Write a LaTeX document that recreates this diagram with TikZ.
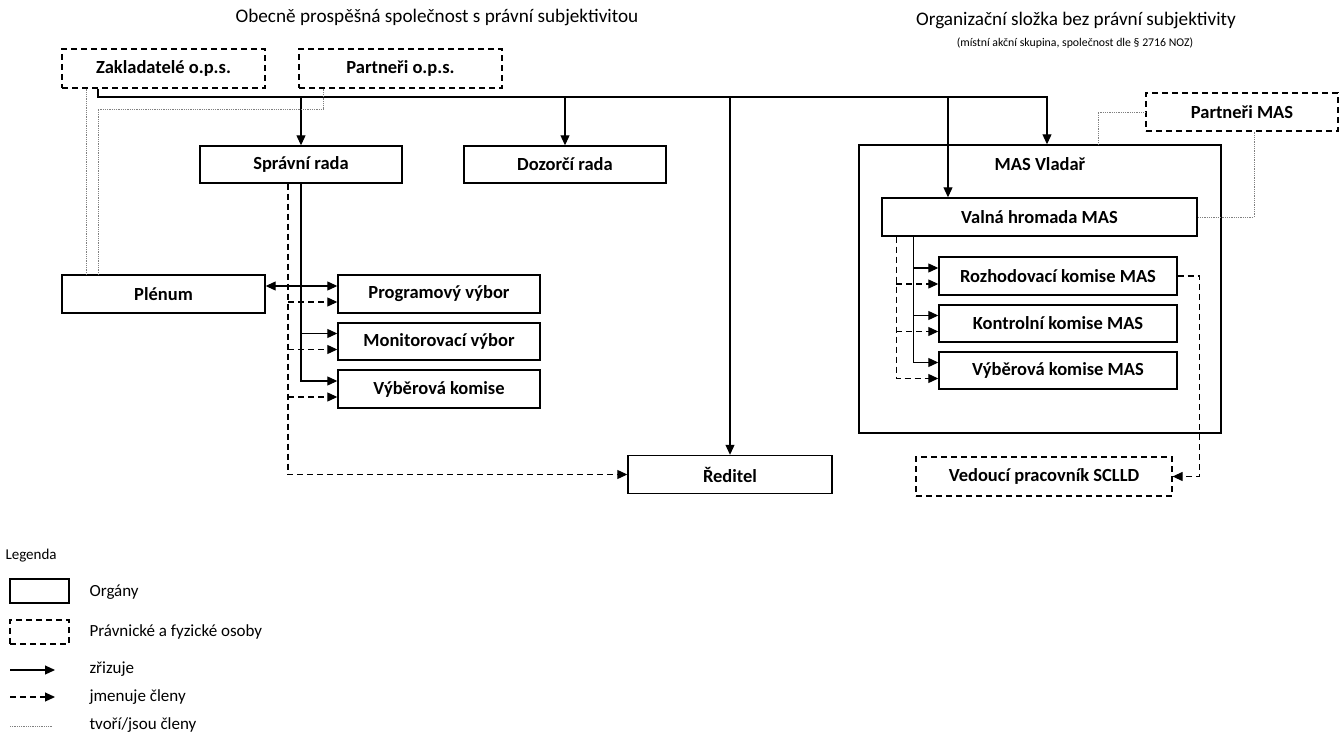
\documentclass[tikz,border=0pt]{standalone}
\usepackage{fontspec}
\setmainfont{Carlito}
\usetikzlibrary{arrows.meta,calc,positioning}

\begin{document}
\begin{tikzpicture}[x=1pt,y=-1pt,
    organ/.style={draw,line width=1.4pt,minimum height=38pt,inner sep=0pt,
      font=\fontsize{18.5}{20}\selectfont\bfseries},
    osoba/.style={organ,line width=1.2pt,dash pattern=on 6pt off 4pt},
    zrizuje/.style={line width=1.1pt,-{Triangle[length=10pt,width=9pt]}},
    jmenuje/.style={zrizuje,dash pattern=on 6pt off 4pt},
    clen/.style={line width=0.8pt,gray,densely dotted},
    nadpis/.style={font=\fontsize{19.2}{21}\selectfont},
    legtext/.style={anchor=west,font=\fontsize{17}{19}\selectfont}]
  \useasboundingbox (0,0) rectangle (1342,735);

  \node[nadpis] (titleops) at (437,17) {Obecně prospěšná společnost s právní subjektivitou};
  \node[nadpis] (titlemas) at (1076,20) {Organizační složka bez právní subjektivity};
  \node[font=\fontsize{11.8}{13}\selectfont] (subtitlemas) at (1075,43)
    {(místní akční skupina, společnost dle § 2716 NOZ)};

  \node[osoba,minimum width=203pt,minimum height=39pt] (zakladatele) at (163.5,68.5) {Zakladatelé o.p.s.};
  \node[osoba,minimum width=203pt,minimum height=39pt] (partneriops) at (400.5,68.5) {Partneři o.p.s.};
  \node[organ,minimum width=202pt,minimum height=37pt] (sprava) at (301,164.5) {Správní rada};
  \node[organ,minimum width=202pt,minimum height=37pt] (dozor) at (565,164.5) {Dozorčí rada};
  \node[organ,minimum width=203pt] (plenum) at (163.5,294) {Plénum};
  \node[organ,minimum width=202pt] (program) at (439,294) {Programový výbor};
  \node[organ,minimum width=202pt,minimum height=37pt] (monitor) at (439,341.5) {Monitorovací výbor};
  \node[organ,minimum width=202pt] (vyber) at (439,389) {Výběrová komise};
  \node[organ,minimum width=204pt] (reditel) at (730,474.5) {Ředitel};

  \node[organ,minimum width=362pt,minimum height=288pt] (mas) at (1040,289) {};
  \node[font=\fontsize{18.5}{20}\selectfont\bfseries] (maslabel) at (1040,164) {MAS Vladař};
  \node[organ,minimum width=315pt] (valna) at (1039.5,217) {Valná hromada MAS};
  \node[organ,minimum width=238pt] (rozhod) at (1058,276) {Rozhodovací komise MAS};
  \node[organ,minimum width=238pt,minimum height=37pt] (kontrol) at (1058,323.5) {Kontrolní komise MAS};
  \node[organ,minimum width=238pt,minimum height=37pt] (vybermas) at (1058,370.5) {Výběrová komise MAS};
  \node[osoba,minimum width=192pt] (partnerimas) at (1242,112) {Partneři MAS};
  \node[osoba,minimum width=256pt,minimum height=39pt] (vedouci) at (1044,476.5) {Vedoucí pracovník SCLLD};

  \coordinate (busL) at (98,97);
  \coordinate (busR) at (1047,97);
  \coordinate (valnaIn) at (948,97);
  \draw[zrizuje] (zakladatele.south -| busL) -- (busL) -- (busR) -- (busR |- mas.north);
  \draw[zrizuje] (sprava.north |- busL) -- (sprava.north);
  \draw[zrizuje] (dozor.north |- busL) -- (dozor.north);
  \draw[zrizuje] (reditel.north |- busL) -- (reditel.north);
  \draw[zrizuje] (valnaIn) -- (valnaIn |- valna.north);

  \coordinate (clenA) at (86,0);
  \coordinate (clenB) at (98,109);
  \coordinate (clenP) at (323,109);
  \coordinate (clenM) at (1098,112);
  \coordinate (clenV) at (1254,217);
  \draw[clen] (zakladatele.south -| clenA) -- (plenum.north -| clenA);
  \draw[clen] (partneriops.south -| clenP) -- (clenP) -- (clenB) -- (plenum.north -| clenB);
  \draw[clen] (partnerimas.west) -- (clenM) -- (clenM |- mas.north);
  \draw[clen] (partnerimas.south -| clenV) -- (clenV) -- (valna.east);

  \foreach \k in {program,monitor,vyber,rozhod,kontrol,vybermas} {
    \coordinate (\k-a) at ($(\k.west)+(0,-8)$);
    \coordinate (\k-b) at ($(\k.west)+(0,8)$);
  }

  \coordinate (spravaDash) at ($(sprava.south)+(-13,0)$);
  \draw[zrizuje] (sprava.south) |- (vyber-a);
  \draw[zrizuje] (sprava.south |- monitor-a) -- (monitor-a);
  \draw[zrizuje,{Triangle[length=10pt,width=9pt]}-{Triangle[length=10pt,width=9pt]}]
    (plenum.east |- program-a) -- (program-a);
  \draw[jmenuje] (spravaDash) |- (reditel.west);
  \foreach \k in {program,monitor,vyber}
    \draw[jmenuje] (spravaDash |- \k-b) -- (\k-b);

  \coordinate (valnaSolid) at ($(valna.south west)+(32,0)$);
  \coordinate (valnaDash) at ($(valna.south west)+(15,0)$);
  \draw[zrizuje] (valnaSolid) |- (vybermas-a);
  \draw[jmenuje] (valnaDash) |- (vybermas-b);
  \foreach \k in {rozhod,kontrol} {
    \draw[zrizuje] (valnaSolid |- \k-a) -- (\k-a);
    \draw[jmenuje] (valnaDash |- \k-b) -- (\k-b);
  }
  \coordinate (rozhodOut) at ($(rozhod.east)+(22,0)$);
  \draw[jmenuje] (rozhod.east) -- (rozhodOut) |- (vedouci.east);

  \node[anchor=west,font=\fontsize{15}{17}\selectfont] (legenda) at (2,556) {Legenda};
  \node[organ,minimum width=59pt,minimum height=24pt] (legorgan) at (39.5,591) {};
  \node[osoba,minimum width=59pt,minimum height=24pt] (legosoba) at (39.5,632) {};
  \coordinate (legZa) at (10,670);
  \coordinate (legZb) at (55,670);
  \coordinate (legJa) at (10,697);
  \coordinate (legJb) at (55,697);
  \coordinate (legCa) at (10,726);
  \coordinate (legCb) at (53,726);
  \draw[zrizuje] (legZa) -- (legZb);
  \draw[jmenuje] (legJa) -- (legJb);
  \draw[clen] (legCa) -- (legCb);
  \node[legtext] (legorgantext) at (86,592) {Orgány};
  \node[legtext] (legosobatext) at (86,632) {Právnické a fyzické osoby};
  \node[legtext] (legzrizuje) at (86,669) {zřizuje};
  \node[legtext] (legjmenuje) at (86,697) {jmenuje členy};
  \node[legtext] (legclen) at (86,725) {tvoří/jsou členy};
\end{tikzpicture}
\end{document}
